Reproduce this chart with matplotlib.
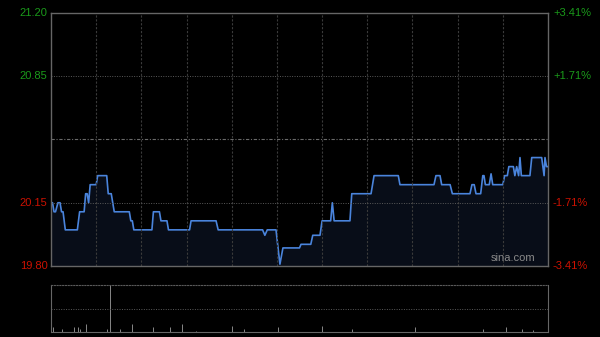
import numpy as np
import matplotlib.pyplot as plt

plt.rcParams['font.family'] = ['Liberation Sans', 'DejaVu Sans']

# price data (minutes from 09:30, HK session of 330 min), change points
t = [0, 1, 2, 3, 4.6, 6, 7, 8, 9.5, 17.5, 19, 22, 23, 24, 25, 26, 30, 31, 37, 38, 40, 42,
     52, 53, 54, 55, 67, 68, 72, 73, 77, 78, 92, 93, 109.6, 111, 140.5, 142, 143.6, 149.4,
     152, 154, 165, 166, 172.5, 173.8, 178.6, 180, 185.7, 186.8, 188, 198.5, 199.7, 212.5,
     214.5, 230.6, 231.7, 254.3, 255.6, 258.3, 259.4, 265, 266.5, 278.2, 279.5, 281, 282.2,
     285.3, 286.7, 287.5, 288.4, 291, 292.2, 293.3, 300, 301.2, 303, 304, 307, 308, 309.2,
     310.5, 311.4, 312.3, 318, 319.2, 325.8, 327.4, 328, 329, 330]
price = [20.15, 20.15, 20.10, 20.10, 20.15, 20.15, 20.10, 20.10, 20.00, 20.00, 20.10, 20.10,
         20.20, 20.20, 20.15, 20.25, 20.25, 20.30, 20.30, 20.20, 20.20, 20.10, 20.10, 20.05,
         20.05, 20.00, 20.00, 20.10, 20.10, 20.05, 20.05, 20.00, 20.00, 20.05, 20.05, 20.00,
         20.00, 19.97, 20.00, 20.00, 19.81, 19.90, 19.90, 19.92, 19.92, 19.97, 19.97, 20.05,
         20.05, 20.15, 20.05, 20.05, 20.20, 20.20, 20.30, 20.30, 20.25, 20.25, 20.30, 20.30,
         20.25, 20.25, 20.20, 20.20, 20.25, 20.25, 20.20, 20.20, 20.30, 20.30, 20.25, 20.25,
         20.31, 20.25, 20.25, 20.30, 20.30, 20.35, 20.35, 20.30, 20.35, 20.30, 20.40, 20.30,
         20.30, 20.40, 20.40, 20.30, 20.40, 20.35, 20.35]

# volume spikes (relative to panel height)
vol_t = [1, 7, 15, 18, 19, 23, 37, 39, 46, 54, 68, 79, 87, 96, 120, 128, 151,
         180, 200, 242, 287, 302, 313, 320]
vol_v = [0.10, 0.06, 0.10, 0.10, 0.06, 0.17, 0.06, 1.0, 0.06, 0.17, 0.11, 0.11, 0.17, 0.03,
         0.13, 0.07, 0.11, 0.13, 0.07, 0.11, 0.07, 0.11, 0.06, 0.04]

prev_close = 20.50
left_ticks = [21.20, 20.85, 20.15, 19.80]
right_ticks = ['+3.41%', '+1.71%', '-1.71%', '-3.41%']
tick_colors = ['#1a9a1a', '#1a9a1a', '#cc1100', '#cc1100']

fig = plt.figure(figsize=(6, 3.37), dpi=100, facecolor='black')
ax = fig.add_axes([51/600, 1-266/337, 497/600, 253/337], facecolor='black')
ax2 = fig.add_axes([51/600, 1-332/337, 497/600, 47/337], facecolor='black')

ax.set_xlim(0, 330)
ax.set_ylim(19.80, 21.20)
ax.fill_between(t, price, 19.80, color='#080d18', lw=0)
ax.plot(t, price, color='#4a84dc', lw=1.2)

for m in range(30, 330, 30):
    ax.axvline(m, color='#3a3a3a', lw=0.8, ls=(0, (2, 1.5)))
ax.axhline(20.85, color='#5a5a5a', lw=0.7, ls=(0, (1, 1.5)))
ax.axhline(20.15, color='#5a5a5a', lw=0.7, ls=(0, (1, 1.5)))
ax.axhline(prev_close, color='#6a6a6a', lw=0.8, ls=(0, (3, 1.5, 1, 1.5)))

for s in ax.spines.values():
    s.set_color('#666666')
    s.set_linewidth(1.0)
ax.set_xticks([])
ax.set_yticks([])

for v, r, c in zip(left_ticks, right_ticks, tick_colors):
    y = (v - 19.80) / 1.40
    ax.text(-0.007, y, '%.2f' % v, transform=ax.transAxes, ha='right', va='center',
            color=c, fontsize=8)
    ax.text(1.01, y, r, transform=ax.transAxes, ha='left', va='center',
            color=c, fontsize=8)

ax.text(0.975, 0.012, 'sina.com', transform=ax.transAxes, ha='right', va='bottom',
        color='#8a8a8a', fontsize=8)

# volume panel
ax2.set_xlim(0, 330)
ax2.set_ylim(0, 1)
ax2.vlines(vol_t, 0, vol_v, color='#888888', lw=0.7)
ax2.axhline(0.5, color='#5a5a5a', lw=0.7, ls=(0, (1, 1.5)))
ax2.set_xticks([])
ax2.set_yticks([])
for k in ['left', 'right', 'bottom']:
    ax2.spines[k].set_color('#666666')
ax2.spines['top'].set_color('#5a5a5a')
ax2.spines['top'].set_linestyle((0, (1, 1.5)))

fig.savefig('out.png', dpi=100, facecolor='black')
